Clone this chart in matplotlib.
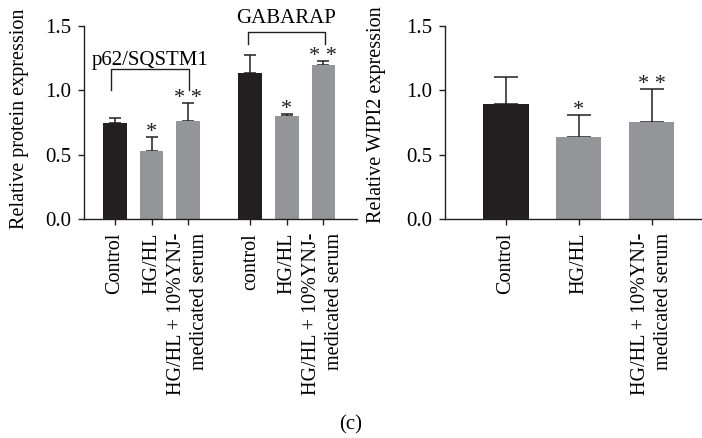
import matplotlib
matplotlib.use("Agg")
import matplotlib.pyplot as plt

plt.rcParams['font.family'] = ['Liberation Serif', 'DejaVu Serif']
plt.rcParams['font.size'] = 15

# ---- data ----
left_labels = ["Control", "HG/HL", "HG/HL + 10%YNJ-\nmedicated serum",
               "control", "HG/HL", "HG/HL + 10%YNJ-\nmedicated serum"]
left_values = [0.75, 0.53, 0.758, 1.135, 0.80, 1.195]
left_err = [0.036, 0.11, 0.147, 0.142, 0.017, 0.031]
left_stars = ["", "*", "* *", "", "*", "* *"]
left_groups = ["p62/SQSTM1", "GABARAP"]

right_labels = ["Control", "HG/HL", "HG/HL + 10%YNJ-\nmedicated serum"]
right_values = [0.892, 0.634, 0.755]
right_err = [0.212, 0.176, 0.254]
right_stars = ["", "*", "* *"]

yticks = [0.0, 0.5, 1.0, 1.5]
ytick_labels = ["0.0", "0.5", "1.0", "1.5"]

# ---- style ----
BLACK = "#231f20"
GREY = "#939598"
left_colors = [BLACK, GREY, GREY, BLACK, GREY, GREY]
right_colors = [BLACK, GREY, GREY]
left_pos = [0, 1, 2, 3.7, 4.7, 5.7]
right_pos = [0, 1, 2]

fig = plt.figure(figsize=(7.02, 4.38), dpi=100)
axL = fig.add_axes([84/702, 0.5, 273/702, 193/438])
axR = fig.add_axes([445/702, 0.5, 257/702, 193/438])


def style(ax, pos, labels, xlim):
    for s in ["top", "right"]:
        ax.spines[s].set_visible(False)
    for s in ["left", "bottom"]:
        ax.spines[s].set_linewidth(1.0)
        ax.spines[s].set_color("#231f20")
    ax.set_ylim(0, 1.5)
    ax.set_xlim(*xlim)
    ax.set_yticks(yticks)
    ax.set_yticklabels(ytick_labels)
    ax.set_xticks(pos)
    ax.set_xticklabels(labels, rotation=90, ha="center", va="top",
                       multialignment="right", linespacing=1.3, fontsize=14.5)
    ax.tick_params(axis="both", direction="out", length=4, width=1.0,
                   color="#231f20", pad=5)
    ax.tick_params(axis="x", pad=6)


def bars(ax, pos, vals, errs, colors, width, capsize, stars):
    ax.bar(pos, vals, width=width, color=colors, edgecolor="none", zorder=2)
    ax.errorbar(pos, vals, yerr=[[0]*len(vals), errs], fmt="none",
                ecolor=BLACK, elinewidth=1.1, capsize=capsize,
                capthick=1.1, zorder=1)
    for p, v, e, s in zip(pos, vals, errs, stars):
        if s:
            ax.annotate(s, (p, v + e), xytext=(0, 0), textcoords="offset points",
                        ha="center", va="baseline", fontsize=16, color="#231f20")


bars(axL, left_pos, left_values, left_err, left_colors, 0.65, 4, left_stars)
bars(axR, right_pos, right_values, right_err, right_colors, 0.62, 8.5, right_stars)

style(axL, left_pos, left_labels, (-0.85, 6.62))
style(axR, right_pos, right_labels, (-0.836, 2.69))

# brackets
def bracket(ax, x0, x1, ytop, ybot, text, ytext):
    ax.plot([x0, x0, x1, x1], [ybot, ytop, ytop, ybot], color="#231f20",
            lw=1.0, clip_on=False, zorder=3)
    ax.text((x0 + x1) / 2, ytext, text, ha="center", va="baseline",
            fontsize=15, clip_on=False)

bracket(axL, -0.1, 2.02, 1.164, 1.005, left_groups[0], 1.197)
bracket(axL, 3.63, 5.74, 1.453, 1.363, left_groups[1], 1.525)

axL.set_ylabel("Relative protein expression", fontsize=14.5)
axR.set_ylabel("Relative WIPI2 expression", fontsize=14.5)
axL.yaxis.set_label_coords(-0.20, 0.52)
axR.yaxis.set_label_coords(-0.23, 0.541)

fig.text(0.5, 1 - 425/438, "(c)", ha="center", va="center", fontsize=15)

fig.savefig("out.png", dpi=100)
